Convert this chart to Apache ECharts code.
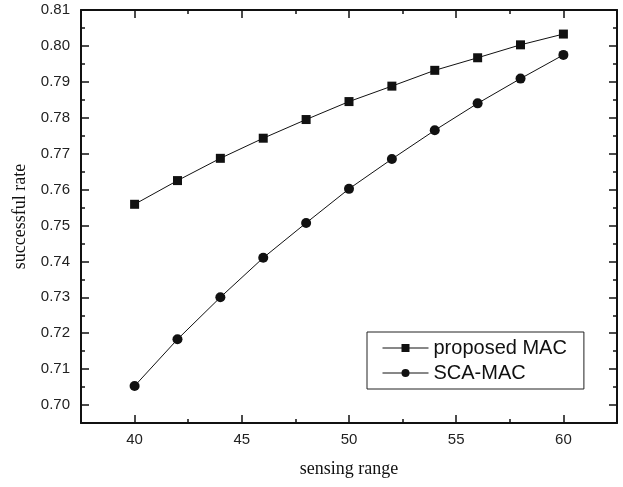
<!DOCTYPE html>
<html>
<head>
<meta charset="utf-8">
<script src="https://cdn.jsdelivr.net/npm/echarts@6/dist/echarts.min.js"></script>
<style>
html,body{margin:0;padding:0;background:#fff;}
#chart{width:623px;height:487px;}
</style>
</head>
<body>
<div id="chart"></div>
<script>
var sensingRange = [40, 42, 44, 46, 48, 50, 52, 54, 56, 58, 60];
var proposedMac = [0.7559, 0.7625, 0.7687, 0.7743, 0.7795, 0.7845, 0.7888, 0.7932, 0.7967, 0.8003, 0.8033];
var scaMac = [0.7053, 0.7183, 0.7300, 0.7410, 0.7507, 0.7602, 0.7685, 0.7765, 0.7840, 0.7909, 0.7975];

var xTicks = [40, 45, 50, 55, 60];
var xMinor = [42.5, 47.5, 52.5, 57.5];
var yTicks = [0.70, 0.71, 0.72, 0.73, 0.74, 0.75, 0.76, 0.77, 0.78, 0.79, 0.80, 0.81];
var yMinor = [0.705, 0.715, 0.725, 0.735, 0.745, 0.755, 0.765, 0.775, 0.785, 0.795, 0.805];

function pairs(xs, ys){
	var out = [];
	for(var i = 0; i < xs.length; i++){
		out.push([xs[i], ys[i]]);
	}
	return out;
}

var LINE = {show:true, lineStyle:{color:'#111', width:2}};
var labelFont = {color:'#222', fontSize:15, fontFamily:'Liberation Sans'};

function makeX(pos, vals, len, main){
	return {
		type:'value', min:37.5, max:62.5, position:pos,
		axisLine: main ? LINE : {show:false},
		axisTick:{show:true, inside:true, length:len, customValues:vals, lineStyle:{color:'#111', width:1.5}},
		axisLabel: (main && pos == 'bottom') ? Object.assign({show:true, margin:9, customValues:xTicks}, labelFont) : {show:false},
		splitLine:{show:false},
		name: (main && pos == 'bottom') ? 'sensing range' : '',
		nameLocation:'middle', nameGap:37,
		nameTextStyle:{color:'#111', fontSize:18, fontFamily:'Liberation Serif'}
	};
}

function makeY(pos, vals, len, main){
	return {
		type:'value', min:0.695, max:0.81, position:pos,
		axisLine: main ? LINE : {show:false},
		axisTick:{show:true, inside:true, length:len, customValues:vals, lineStyle:{color:'#111', width:1.5}},
		axisLabel: (main && pos == 'left') ? Object.assign({show:true, margin:11, customValues:yTicks,
			formatter:function(v){ return v.toFixed(2); }}, labelFont) : {show:false},
		splitLine:{show:false},
		name: (main && pos == 'left') ? 'successful rate' : '',
		nameLocation:'middle', nameGap:52,
		nameTextStyle:{color:'#111', fontSize:18, fontFamily:'Liberation Serif'}
	};
}

var myChart = echarts.init(document.getElementById('chart'));
myChart.setOption({
	animation:false,
	backgroundColor:'#fff',
	grid:{left:81, right:6, top:10, bottom:64},
	legend:{
		left:367, top:332,
		orient:'vertical',
		itemWidth:46, itemHeight:10, itemGap:5,
		padding:[6, 17, 6, 15],
		borderColor:'#222', borderWidth:1,
		lineStyle:{width:1},
		textStyle:{color:'#111', fontSize:20, fontFamily:'Liberation Sans'},
		data:['proposed MAC', 'SCA-MAC']
	},
	xAxis:[
		makeX('bottom', xTicks, 8, true),
		makeX('bottom', xMinor, 4, false),
		makeX('top', xTicks, 8, true),
		makeX('top', xMinor, 4, false)
	],
	yAxis:[
		makeY('left', yTicks, 8, true),
		makeY('left', yMinor, 4, false),
		makeY('right', yTicks, 8, true),
		makeY('right', yMinor, 4, false)
	],
	series:[
		{
			name:'proposed MAC', type:'line',
			data:pairs(sensingRange, proposedMac),
			symbol:'rect', symbolSize:9,
			lineStyle:{color:'#111', width:1},
			itemStyle:{color:'#111'}
		},
		{
			name:'SCA-MAC', type:'line',
			data:pairs(sensingRange, scaMac),
			symbol:'circle', symbolSize:10,
			lineStyle:{color:'#111', width:1},
			itemStyle:{color:'#111'}
		}
	]
});
</script>
</body>
</html>
